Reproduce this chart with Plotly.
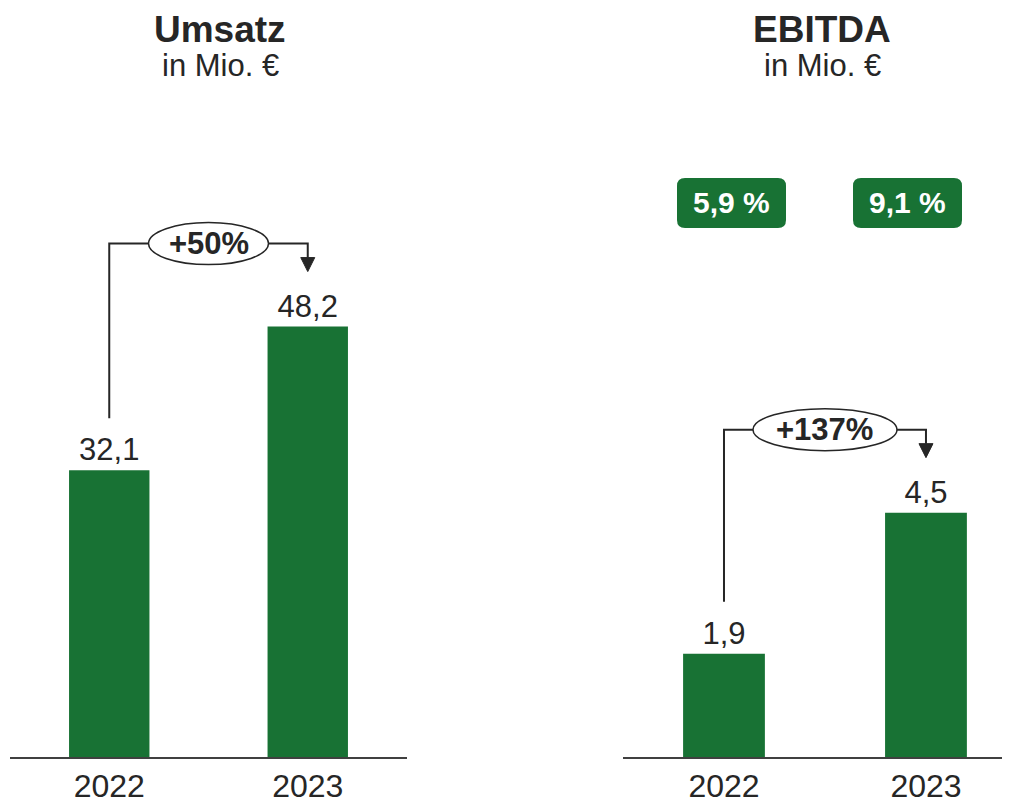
import plotly.graph_objects as go

# ---- data ----
years = ["2022", "2023"]
umsatz = [32.1, 48.2]
ebitda = [1.9, 4.5]
umsatz_labels = ["32,1", "48,2"]
ebitda_labels = ["1,9", "4,5"]
growth_labels = ["+50%", "+137%"]
margin_labels = ["5,9 %", "9,1 %"]
titles = ["Umsatz", "EBITDA"]
subtitle = "in Mio. €"

# ---- style / layout ----
OFF = 8  # default page body margin of the html page
W, H = 1010 - OFF, 803 - OFF
GREEN = "#187234"
TXT = "#262626"
LINE = "#262626"
FONT = "Liberation Sans, Arial, Helvetica, sans-serif"


def px(v):
    """page pixel -> figure pixel"""
    return v - OFF


base_px = px(757)
ydom = [(H - base_px) / H, 1.0]
x_dom_px = [(px(10), px(407)), (px(623), px(1010))]
x_rng = [[-0.5, 1.5], [-0.5, 1.416]]
# vertical scale: pixels per unit
ppu = [8.93, 54.3]
y_max = [base_px / p for p in ppu]
title_cx = [px(220), px(822)]

fig = go.Figure()
panels = [(umsatz, umsatz_labels), (ebitda, ebitda_labels)]
xs = [0, 1]

for i, (vals, labs) in enumerate(panels):
    ax = "" if i == 0 else "2"
    fig.add_trace(go.Bar(
        x=xs, y=vals, text=labs, textposition="outside",
        textfont=dict(size=31, color=TXT, family=FONT),
        marker=dict(color=GREEN, line=dict(width=0)),
        width=0.405, cliponaxis=False, showlegend=False,
        xaxis="x" + ax, yaxis="y" + ax, hoverinfo="skip",
    ))

layout = dict(
    width=W, height=H, margin=dict(l=0, r=0, t=0, b=0),
    paper_bgcolor="white", plot_bgcolor="white",
    font=dict(family=FONT, color=TXT),
    showlegend=False,
)
shapes = []
annotations = []
for i, (vals, labs) in enumerate(panels):
    ax = "" if i == 0 else "2"
    d0, d1 = x_dom_px[i]
    layout["xaxis" + ax] = dict(
        domain=[d0 / W, min(d1 / W, 1.0)], range=x_rng[i], anchor="y" + ax,
        tickvals=xs, ticktext=years, showgrid=False, zeroline=False,
        showline=True, linecolor="#404040", linewidth=2, ticks="",
        tickfont=dict(size=32, color=TXT, family=FONT), fixedrange=True,
    )
    layout["yaxis" + ax] = dict(
        domain=ydom, range=[0, y_max[i]], anchor="x" + ax, visible=False,
        showgrid=False, zeroline=False, fixedrange=True,
    )
    ppu_y = ppu[i]
    ppu_x = (d1 - d0) / (x_rng[i][1] - x_rng[i][0])
    top = max(vals)
    yb = top + 83 / ppu_y
    ys = vals[0] + 52 / ppu_y
    ytip = top + 55 / ppu_y
    ybase = ytip + 14 / ppu_y
    ah = 7 / ppu_x
    xr, yr = "x" + ax, "y" + ax
    shapes.append(dict(
        type="path", xref=xr, yref=yr,
        path=f"M {xs[0]},{ys} L {xs[0]},{yb} L {xs[1]},{yb} L {xs[1]},{ybase}",
        line=dict(color=LINE, width=2),
    ))
    shapes.append(dict(
        type="path", xref=xr, yref=yr,
        path=f"M {xs[1]-ah},{ybase} L {xs[1]+ah},{ybase} L {xs[1]},{ytip} Z",
        fillcolor=LINE, line=dict(color=LINE, width=1),
    ))
    ew = (120 if i == 0 else 144) / ppu_x / 2
    eh = 21 / ppu_y
    xm = (xs[0] + xs[1]) / 2
    shapes.append(dict(
        type="circle", xref=xr, yref=yr,
        x0=xm - ew, x1=xm + ew, y0=yb - eh, y1=yb + eh,
        fillcolor="white", line=dict(color=LINE, width=1.5),
    ))
    annotations.append(dict(
        x=xm, y=yb, xref=xr, yref=yr, text=f"<b>{growth_labels[i]}</b>",
        showarrow=False, font=dict(size=31, color=TXT, family=FONT),
        xanchor="center", yanchor="middle",
    ))
    # titles
    annotations.append(dict(
        x=title_cx[i] / W, y=1.0, xref="paper", yref="paper",
        text=f"<b>{titles[i]}</b>", showarrow=False, borderpad=0,
        font=dict(size=37, color=TXT, family=FONT),
        xanchor="center", yanchor="top",
    ))
    annotations.append(dict(
        x=title_cx[i] / W, y=1 - px(66) / H, xref="paper", yref="paper",
        text=subtitle, showarrow=False,
        font=dict(size=31, color=TXT, family=FONT),
        xanchor="center", yanchor="middle",
    ))

# margin boxes (EBITDA-Marge)
box_cx = [px(731.5), px(907.5)]
box_cy, bw, bh, r = px(203), 109, 50, 8
for cx, lab in zip(box_cx, margin_labels):
    x0, x1 = (cx - bw / 2) / W, (cx + bw / 2) / W
    y1, y0 = 1 - (box_cy - bh / 2) / H, 1 - (box_cy + bh / 2) / H
    rx, ry = r / W, r / H
    path = (f"M {x0+rx},{y0} L {x1-rx},{y0} Q {x1},{y0} {x1},{y0+ry} "
            f"L {x1},{y1-ry} Q {x1},{y1} {x1-rx},{y1} L {x0+rx},{y1} "
            f"Q {x0},{y1} {x0},{y1-ry} L {x0},{y0+ry} Q {x0},{y0} {x0+rx},{y0} Z")
    shapes.append(dict(type="path", xref="paper", yref="paper", path=path,
                       fillcolor=GREEN, line=dict(width=0)))
    annotations.append(dict(
        x=cx / W, y=1 - box_cy / H, xref="paper", yref="paper",
        text=f"<b>{lab}</b>", showarrow=False,
        font=dict(size=30, color="white", family=FONT),
        xanchor="center", yanchor="middle",
    ))

layout["shapes"] = shapes
layout["annotations"] = annotations
fig.update_layout(**layout)
fig.write_html("out.html")
